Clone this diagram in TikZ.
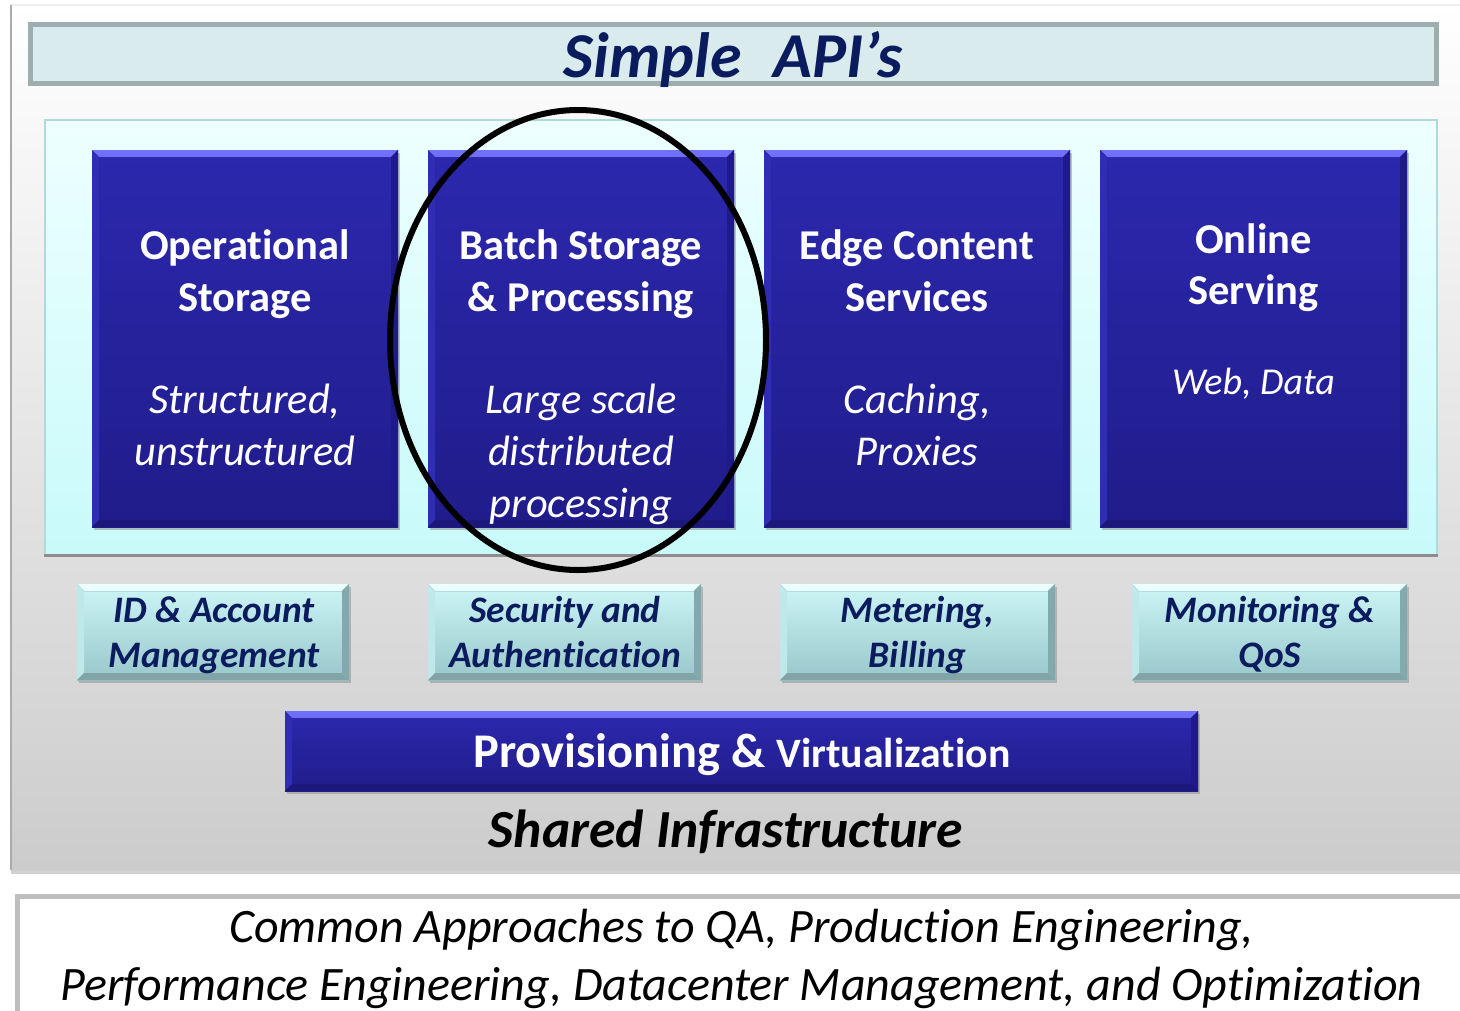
\documentclass[tikz,border=0pt]{standalone}
\usepackage{fontspec}
\setmainfont{Carlito}[Ligatures={NoCommon,NoContextual,NoRare}]
\usetikzlibrary{shadows}
\definecolor{navytext}{HTML}{0B1C5E}
\definecolor{boxtop}{HTML}{2C28AE}
\definecolor{boxbot}{HTML}{201C8A}
\definecolor{cyantop}{HTML}{CDF6F6}
\definecolor{cyanbot}{HTML}{98C6CA}
\definecolor{titlefill}{HTML}{DAEBEE}
\definecolor{titledraw}{HTML}{9EAEAE}
\definecolor{panelline}{HTML}{8C8C8C}
\definecolor{paneledge}{HTML}{ABABAB}
\definecolor{paneltop}{HTML}{EFEFEF}
\newcommand\fsz[2]{\fontsize{#1}{#2}\selectfont}
\tikzset{
  outerpanel/.style={rectangle, draw=none,
    top color=white, bottom color={rgb,255:red,204;green,204;blue,204},
    drop shadow={opacity=0.35, shadow xshift=0pt, shadow yshift=-4pt}},
  titlebox/.style={rectangle, draw=titledraw, line width=5pt, fill=titlefill},
  cyanpanel/.style={rectangle, draw={rgb,255:red,176;green,218;blue,218}, line width=1.5pt,
    top color={rgb,255:red,238;green,255;blue,255}, bottom color={rgb,255:red,200;green,250;blue,250}},
  bevel/.style n args={4}{path picture={
    \fill[#1] (path picture bounding box.north west) -- (path picture bounding box.north east)
      -- ([xshift=-7pt,yshift=-7pt]path picture bounding box.north east)
      -- ([xshift=7pt,yshift=-7pt]path picture bounding box.north west) -- cycle;
    \fill[#2] (path picture bounding box.north west) -- ([xshift=7pt,yshift=-7pt]path picture bounding box.north west)
      -- ([xshift=7pt,yshift=7pt]path picture bounding box.south west) -- (path picture bounding box.south west) -- cycle;
    \fill[#3] (path picture bounding box.north east) -- ([xshift=-7pt,yshift=-7pt]path picture bounding box.north east)
      -- ([xshift=-7pt,yshift=7pt]path picture bounding box.south east) -- (path picture bounding box.south east) -- cycle;
    \fill[#4] (path picture bounding box.south west) -- ([xshift=7pt,yshift=7pt]path picture bounding box.south west)
      -- ([xshift=-7pt,yshift=7pt]path picture bounding box.south east) -- (path picture bounding box.south east) -- cycle;
  }},
  bluebox/.style={rectangle, top color=boxtop, bottom color=boxbot, draw=none,
    drop shadow={opacity=0.45, shadow xshift=2pt, shadow yshift=-3pt},
    bevel={top color={rgb,255:red,112;green,112;blue,250}, bottom color={rgb,255:red,60;green,56;blue,196}}%
          {fill={rgb,255:red,48;green,44;blue,180}}{fill={rgb,255:red,30;green,26;blue,136}}{fill={rgb,255:red,28;green,24;blue,122}}},
  cyanbox/.style={rectangle, top color=cyantop, bottom color=cyanbot, draw=none,
    drop shadow={opacity=0.45, shadow xshift=2pt, shadow yshift=-3pt},
    bevel={top color={rgb,255:red,235;green,255;blue,255}, bottom color={rgb,255:red,200;green,244;blue,244}}%
          {fill={rgb,255:red,190;green,232;blue,234}}{fill={rgb,255:red,130;green,170;blue,174}}{fill={rgb,255:red,128;green,164;blue,168}}},
  headtext/.style={inner sep=0pt, align=center, text=white, font=\fsz{42.5}{52}\bfseries},
  subtext/.style={inner sep=0pt, align=center, text=white, font=\fsz{42.5}{52}\itshape},
  smalltext/.style={inner sep=0pt, align=center, text=navytext, font=\fsz{37.4}{45}\bfseries\itshape},
}
\begin{document}
\begin{tikzpicture}[x=1pt,y=-1pt]
\useasboundingbox (0,0) rectangle (1460,1010);
\fill[white] (0,0) rectangle (1460,1010);

% shared infrastructure panel
\node[outerpanel, minimum width=1470pt, minimum height=865pt, anchor=north west] (shared) at (11,5) {};
\draw[paneltop, line width=1.5pt] (shared.north west) -- (shared.north east);
\draw[paneledge, line width=2pt] (shared.north west) -- (shared.south west);

% bottom box
\node[rectangle, draw={rgb,255:red,190;green,190;blue,190}, line width=5pt, fill=white,
      minimum width=1470pt, minimum height=140pt, anchor=north west] (common) at (14.5,893.5) {};

% title
\node[titlebox, minimum width=1406pt, minimum height=59pt] (api) at (733.5,54) {};
\node[anchor=base, inner sep=0pt, text=navytext, font=\fsz{64}{70}\bfseries\itshape] (apit) at (733,77) {Simple\hspace{0.5em}API’s};

% cyan panel
\node[cyanpanel, minimum width=1392pt, minimum height=435pt] (svc) at (741,337.5) {};
\draw[line width=3pt, panelline] (svc.south west) -- (svc.south east);

% four service boxes
\node[bluebox, minimum width=306pt, minimum height=377pt] (op) at (245,338.5) {};
\node[bluebox, minimum width=306pt, minimum height=377pt] (bt) at (581,338.5) {};
\node[bluebox, minimum width=306pt, minimum height=377pt] (ed) at (917,338.5) {};
\node[bluebox, minimum width=307pt, minimum height=377pt] (on) at (1253.5,338.5) {};

\node[headtext] (opt) at (245,274) {Operational\\Storage};
\node[subtext] (ops) at (245,425) {Structured,\\unstructured};
\node[headtext] (btt) at (581,274.5) {Batch Storage\\\& Processing};
\node[subtext] (bts) at (581,454.5) {Large scale\\distributed\\processing};
\node[headtext] (edt) at (917,271) {Edge Content\\Services};
\node[subtext] (eds) at (917,425) {Caching,\\Proxies};
\node[headtext, font=\fsz{42.5}{51}\bfseries] (ont) at (1253.5,268) {Online\\Serving};
\node[subtext, font=\fsz{38}{46}\itshape] (ons) at (1253.5,384) {Web, Data};

% small boxes
\node[cyanbox, minimum width=272pt, minimum height=96pt] (id) at (213,632) {};
\node[cyanbox, minimum width=273pt, minimum height=96pt] (sec) at (564.5,632) {};
\node[cyanbox, minimum width=275pt, minimum height=96pt] (met) at (917.5,632) {};
\node[cyanbox, minimum width=275pt, minimum height=96pt] (mon) at (1269.5,632) {};
\node[smalltext] (idt) at (214,635.5) {ID \& Account\\Management};
\node[smalltext] (sect) at (565,632) {Security and\\Authentication};
\node[smalltext] (mett) at (917.5,635.5) {Metering,\\Billing};
\node[smalltext] (mont) at (1270,634) {Monitoring \&\\QoS};

% provisioning bar
\node[bluebox, minimum width=913pt, minimum height=80pt] (prov) at (741.5,751) {};
\node[anchor=base, inner sep=0pt, text=white, font=\bfseries] (provt) at (742,767)
  {\fsz{48.4}{54}Provisioning \& \fsz{41.8}{54}Virtualization};

\node[anchor=base, inner sep=0pt, text=black, font=\fsz{53.6}{60}\bfseries\itshape] (sharedt) at (726,847) {Shared Infrastructure};

\node[inner sep=0pt, align=center, text=black, font=\fsz{48}{58}\itshape] (commont) at (741.5,958.5)
  {Common Approaches to QA, Production Engineering,\\Performance Engineering, Datacenter Management, and Optimization};

% highlight ellipse
\draw[line width=6pt, black] (bt.center) ++(-3,1.5) ellipse [x radius=188, y radius=230];
\end{tikzpicture}
\end{document}
